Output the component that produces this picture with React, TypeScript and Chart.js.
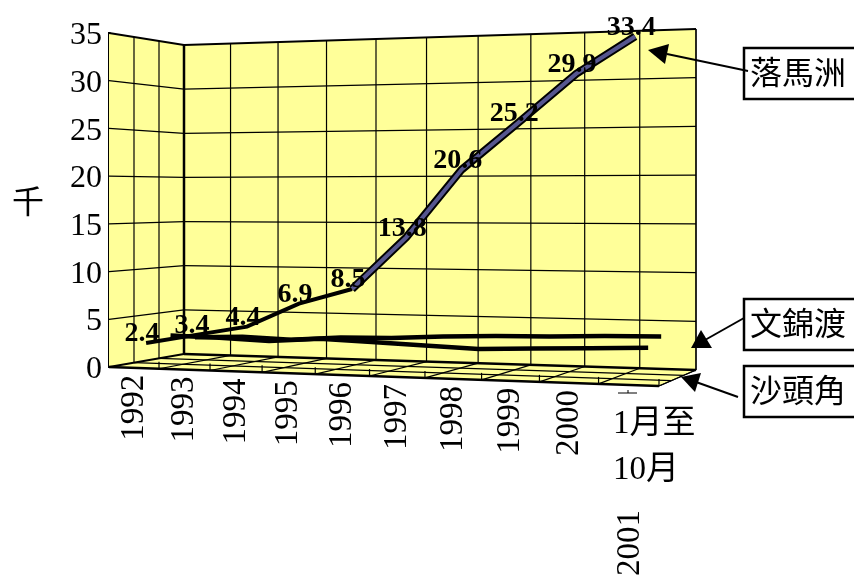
import React, { useEffect, useRef } from "react";
import { Chart, registerables } from "chart.js";

Chart.register(...registerables);

// Crossing figures, in thousands
const years = ["1992", "1993", "1994", "1995", "1996", "1997", "1998", "1999", "2000"];
const partialYearLines = ["1月至", "10月"];
const partialYear = "2001";
const lokMaChau = [2.4, 3.4, 4.4, 6.9, 8.5, 13.8, 20.6, 25.2, 29.9, 33.4];
const shaTauKok = [2.8, 2.7, 2.5, 2.9, 2.7, 2.5, 2.3, 2.5, 2.7, 2.9];
const manKamTo = [2.2, 2.4, 2.2, 2.6, 2.7, 3.0, 3.2, 3.3, 3.5, 3.6];
const yTicks = [0, 35];
const unitTitle = "千";
const calloutNames = ["落馬洲", "文錦渡", "沙頭角"];

const SERIF = '"Liberation Serif", "Noto Sans CJK TC"';
const CJK = '"Liberation Serif", "Noto Sans CJK TC"';
const WALL = "#FFFF99";
const RIBBON = "#56568F";

const lerp = (a: number, b: number, t: number) => a + (b - a) * t;
const GROUPS = lokMaChau.length;

// Perspective foreshortening along the category direction
const foreshorten = (u: number) => (0.9 * u) / (1 - 0.1 * u);

// Floor corners of the 3-D box and the pixel height of the value range at each corner
const FRONT = { x0: 109, x1: 659, y0: 367, y1: 386, h0: 334, h1: 369 };
const BACK = { x0: 184, x1: 696, y0: 354, y1: 370, h0: 309, h1: 341 };
const VALUE_MAX = yTicks[1];
const AXIS_SCALE = (FRONT.y0 - 33) / VALUE_MAX;

function project(u: number, depth: number, value: number) {
  const t = foreshorten(u);
  const x = lerp(lerp(FRONT.x0, FRONT.x1, t), lerp(BACK.x0, BACK.x1, t), depth);
  const floor = lerp(lerp(FRONT.y0, FRONT.y1, t), lerp(BACK.y0, BACK.y1, t), depth);
  const height = lerp(lerp(FRONT.h0, FRONT.h1, t), lerp(BACK.h0, BACK.h1, t), depth);
  return { x, y: floor - (value * height) / VALUE_MAX };
}

// Projected point expressed in the units of the chart's hidden x scale and its value scale
function toScaleUnits(i: number, value: number, depth: number) {
  const p = project((i + 0.5) / GROUPS, depth, value);
  return {
    x: (p.x - FRONT.x0) / (FRONT.x1 - FRONT.x0),
    y: (FRONT.y0 - p.y) / AXIS_SCALE,
  };
}

const seriesPoints = (values: number[], depth: number) =>
  values.map((v, i) => toScaleUnits(i, v, depth));

function polygon(ctx: CanvasRenderingContext2D, pts: number[][], fill?: string) {
  ctx.beginPath();
  pts.forEach(([x, y], i) => (i ? ctx.lineTo(x, y) : ctx.moveTo(x, y)));
  ctx.closePath();
  if (fill) {
    ctx.fillStyle = fill;
    ctx.fill();
  }
}

function segment(ctx: CanvasRenderingContext2D, a: number[], b: number[], width: number) {
  ctx.lineWidth = width;
  ctx.beginPath();
  ctx.moveTo(a[0], a[1]);
  ctx.lineTo(b[0], b[1]);
  ctx.stroke();
}

const pt = (u: number, d: number, v: number) => {
  const p = project(u, d, v);
  return [p.x, p.y];
};

// Walls, floor and their grids
const boxPlugin = {
  id: "box3d",
  beforeDatasetsDraw(chart: Chart) {
    const ctx = chart.ctx;
    ctx.save();
    ctx.strokeStyle = "#000";
    ctx.lineCap = "butt";

    polygon(ctx, [pt(0, 1, 0), pt(1, 1, 0), pt(1, 1, 35), pt(0, 1, 35)], WALL);
    polygon(ctx, [pt(0, 0, 0), pt(0, 1, 0), pt(0, 1, 35), pt(0, 0, 35)], WALL);
    polygon(ctx, [pt(0, 0, 0), pt(1, 0, 0), pt(1, 1, 0), pt(0, 1, 0)], WALL);

    for (let v = 5; v < VALUE_MAX; v += 5) {
      segment(ctx, pt(0, 1, v), pt(1, 1, v), 1.2);
      segment(ctx, pt(0, 0, v), pt(0, 1, v), 1.2);
    }
    for (let i = 1; i <= GROUPS; i++) {
      const u = i / GROUPS;
      segment(ctx, pt(u, 1, 0), pt(u, 1, 35), 1.2);
      segment(ctx, pt(u, 0, 0), pt(u, 1, 0), 1.2);
      const f = pt(u, 0, 0);
      segment(ctx, f, [f[0], f[1] - 7], 1.2);
    }
    for (const d of [1 / 3, 2 / 3]) {
      segment(ctx, pt(0, d, 35), pt(0, d, 0), 1.2);
      segment(ctx, pt(0, d, 0), pt(1, d, 0), 1.2);
    }
    segment(ctx, pt(0, 0, 35), pt(0, 1, 35), 1.8);
    segment(ctx, pt(0, 1, 35), pt(1, 1, 35), 1.8);
    segment(ctx, pt(0, 1, 0), pt(0, 1, 35), 2.5);
    segment(ctx, pt(0, 1, 0), pt(1, 1, 0), 2.5);
    segment(ctx, pt(0, 0, 0), pt(0, 1, 0), 2);
    segment(ctx, pt(0, 0, 0), pt(1, 0, 0), 2.5);
    segment(ctx, pt(1, 0, 0), pt(1, 1, 0), 1.2);
    segment(ctx, pt(1, 1, 0), pt(1, 1, 35), 1.2);
    ctx.restore();
  },
  afterDraw(chart: Chart) {
    const ctx = chart.ctx;
    ctx.save();
    ctx.fillStyle = "#000";
    ctx.strokeStyle = "#000";

    // Value labels on the front series
    ctx.font = `bold 28px ${SERIF}`;
    ctx.textAlign = "center";
    ctx.textBaseline = "middle";
    lokMaChau.forEach((v, i) => {
      const p = project((i + 0.5) / GROUPS, 1 / 6, v);
      ctx.fillText(v.toFixed(1), p.x - 4, p.y - 9);
    });

    // Category labels below the front edge of the floor
    ctx.font = `33px ${SERIF}`;
    years.forEach((label, i) => {
      const f = project((i + 0.5) / GROUPS, 0, 0);
      ctx.save();
      ctx.translate(f.x, f.y + 7);
      ctx.rotate(-Math.PI / 2);
      ctx.textAlign = "right";
      ctx.textBaseline = "middle";
      ctx.fillText(label, 0, 0);
      ctx.restore();
    });

    // The last category wraps across several lines
    ctx.textAlign = "left";
    ctx.textBaseline = "middle";
    ctx.font = `33px ${CJK}`;
    ctx.fillText(partialYearLines[0], 613, 424);
    ctx.fillText(partialYearLines[1], 613, 470);
    ctx.save();
    ctx.translate(630, 510);
    ctx.rotate(-Math.PI / 2);
    ctx.textAlign = "right";
    ctx.font = `33px ${SERIF}`;
    ctx.fillText(partialYear, 0, 0);
    ctx.restore();
    segment(ctx, [618, 393], [637, 393], 1);
    segment(ctx, [628, 393], [628, 390], 1);

    // Unit title
    ctx.font = `32px ${CJK}`;
    ctx.textAlign = "center";
    ctx.fillText(unitTitle, 28, 205);

    // Callout boxes with their arrows
    const boxes = [
      { top: 48, bottom: 99 },
      { top: 299, bottom: 350 },
      { top: 366, bottom: 417 },
    ];
    boxes.forEach((b, i) => {
      ctx.fillStyle = "#fff";
      ctx.fillRect(744, b.top, 120, b.bottom - b.top);
      ctx.lineWidth = 2.5;
      ctx.strokeRect(744, b.top, 120, b.bottom - b.top);
      ctx.fillStyle = "#000";
      ctx.textAlign = "left";
      ctx.fillText(calloutNames[i], 750, (b.top + b.bottom) / 2 + 2);
    });

    segment(ctx, [748, 71], [667, 54], 2);
    polygon(ctx, [[648, 50], [669, 44], [665, 64]], "#000");
    segment(ctx, [744, 318], [705, 340], 2);
    polygon(ctx, [[691, 348], [712, 348], [701, 330]], "#000");
    segment(ctx, [738, 397], [696, 382], 2);
    polygon(ctx, [[681, 377], [701, 373], [695, 392]], "#000");
    ctx.restore();
  },
};

export default function App() {
  const ref = useRef<HTMLCanvasElement>(null);

  useEffect(() => {
    if (!ref.current) return;
    const flat = 4;
    const chart = new Chart(ref.current, {
      type: "line",
      data: {
        datasets: [
          {
            label: "文錦渡",
            data: seriesPoints(manKamTo, 5 / 6),
            borderColor: "#000",
            borderWidth: 4.5,
            order: 4,
          },
          {
            label: "沙頭角",
            data: seriesPoints(shaTauKok, 1 / 2),
            borderColor: "#000",
            borderWidth: 4.5,
            order: 3,
          },
          {
            label: "落馬洲",
            data: seriesPoints(lokMaChau, 1 / 6),
            borderColor: "#000",
            borderWidth: 4,
            segment: { borderWidth: (c: any) => (c.p0DataIndex >= flat ? 8 : 4) },
            order: 2,
          },
          {
            label: "落馬洲 ribbon",
            data: seriesPoints(lokMaChau, 1 / 6),
            borderWidth: 4,
            borderColor: RIBBON,
            segment: {
              borderColor: (c: any) => (c.p0DataIndex >= flat ? RIBBON : "rgba(0,0,0,0)"),
            },
            order: 1,
          },
        ],
      },
      options: {
        animation: false,
        responsive: false,
        parsing: false,
        normalized: true,
        layout: { padding: { left: 0, top: 33, right: 854 - FRONT.x1, bottom: 579 - FRONT.y0 } },
        elements: {
          point: { radius: 0 },
          line: { tension: 0, capStyle: "round", joinStyle: "round" },
        },
        plugins: { legend: { display: false }, tooltip: { enabled: false } },
        datasets: { line: { clip: false as any } },
        scales: {
          x: { type: "linear", min: 0, max: 1, display: false },
          y: {
            type: "linear",
            min: yTicks[0],
            max: yTicks[1],
            afterFit: (s: any) => {
              s.width = FRONT.x0;
            },
            grid: { display: false, drawTicks: false },
            border: { display: true, color: "#000", width: 2.5 },
            ticks: {
              stepSize: 5,
              color: "#000",
              padding: 7,
              // An empty first line nudges each number down onto its gridline
              callback: (v: any) => ["", String(v)],
              font: { family: SERIF, size: 32, lineHeight: 0.17 },
            },
          },
        },
      },
      plugins: [boxPlugin],
    } as any);
    return () => chart.destroy();
  }, []);

  return (
    <div style={{ position: "fixed", left: 0, top: 0, width: 854, height: 579, background: "#fff", overflow: "hidden" }}>
      <canvas ref={ref} width={854} height={579} style={{ display: "block" }} />
    </div>
  );
}
